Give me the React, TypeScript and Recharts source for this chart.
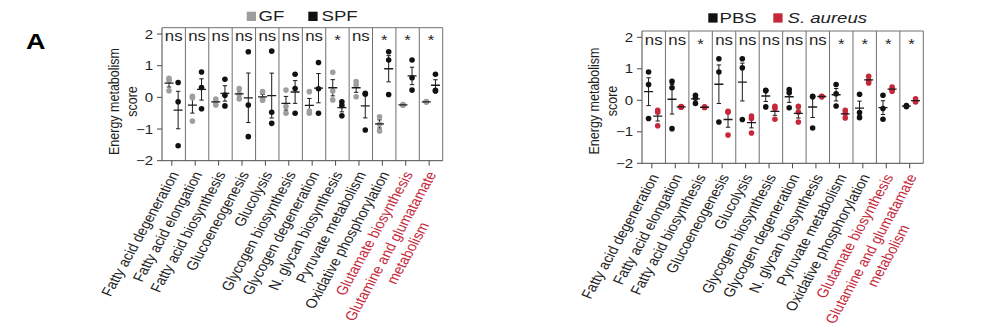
import React from 'react';
import { ComposedChart, Scatter, XAxis, YAxis, ErrorBar, ReferenceLine } from 'recharts';

// pathway names, "\n" splits a label over two lines
const CATEGORIES = [
  'Fatty acid degeneration',
  'Fatty acid elongation',
  'Fatty acid biosynthesis',
  'Glucoeneogenesis',
  'Glucolysis',
  'Glycogen biosynthesis',
  'Glycogen degeneration',
  'N. glycan biosynthesis',
  'Pyruvate metabolism',
  'Oxidative phosphorylation',
  'Glutamate biosynthesis',
  'Glutamine and glumatamate\nmetabolism',
];
const RED_CATEGORIES = ['Glutamate biosynthesis', 'Glutamine and glumatamate\nmetabolism'];

// three mice per group, one row per pathway
const GF = [
  [0.6, 0.53, 0.21],
  [0.03, -0.01, -0.75],
  [-0.05, -0.14, -0.24],
  [0.28, 0.1, -0.05],
  [0.18, -0.05, -0.09],
  [0.23, -0.29, -0.5],
  [0.18, -0.43, -0.5],
  [0.79, 0.2, -0.08],
  [0.5, 0.39, 0.02],
  [-0.61, -0.85, -1.06],
  [-0.23, -0.24, -0.25],
  [-0.13, -0.14, -0.15],
];
const SPF = [
  [0.47, -0.14, -1.53],
  [0.8, 0.31, -0.36],
  [0.57, 0.07, -0.27],
  [1.44, -0.24, -1.24],
  [1.46, -0.47, -0.82],
  [0.73, 0.28, -0.5],
  [1.1, 0.27, -0.5],
  [-0.14, -0.26, -0.58],
  [0.13, 0.1, -1.03],
  [1.44, 1.18, 0.09],
  [1.18, 0.62, 0.23],
  [0.73, 0.22, 0.2],
];
const PBS = [
  [0.9, 0.5, -0.58],
  [0.6, 0.4, -0.9],
  [0.16, 0.07, -0.1],
  [1.32, 0.9, -0.69],
  [1.32, 1.03, -0.61],
  [0.32, 0.3, -0.21],
  [0.34, 0.24, -0.24],
  [0.13, 0.11, -0.88],
  [0.5, 0.21, -0.18],
  [0.19, -0.39, -0.55],
  [0.16, -0.26, -0.6],
  [-0.17, -0.19, -0.2],
];
const S_AUREUS = [
  [-0.32, -0.38, -0.81],
  [-0.2, -0.21, -0.22],
  [-0.21, -0.22, -0.23],
  [-0.35, -0.38, -1.1],
  [-0.5, -0.58, -1.04],
  [-0.19, -0.26, -0.6],
  [-0.19, -0.37, -0.69],
  [0.11, 0.12, 0.13],
  [-0.32, -0.42, -0.56],
  [0.76, 0.63, 0.55],
  [0.42, 0.35, 0.29],
  [0.05, -0.05, -0.03],
];

const SIG_GF_SPF = ['ns', 'ns', 'ns', 'ns', 'ns', 'ns', 'ns', '*', 'ns', '*', '*', '*'];
const SIG_PBS_SA = ['ns', 'ns', '*', 'ns', 'ns', 'ns', 'ns', 'ns', '*', '*', '*', '*'];
const Y_TICKS = [-2, -1, 0, 1, 2];

const FONT = '"Liberation Sans", Arial, Helvetica, sans-serif';
const STRETCH = 1.2; // the source figure is squashed wider than tall
const RED = '#c6283a';
const GREY = '#9e9e9e';
const BLACK = '#111111';
const FRAME = '#707070';
const AXIS = '#4a4a4a';
const TEXT = '#1e1e1e';
const TICK_POS = 0.42;
const SIG_Y = 1.77;
const LABEL_SIZE = 13;

const mean = (a: number[]) => a.reduce((s, v) => s + v, 0) / a.length;
const sem = (a: number[]) => {
  const m = mean(a);
  const sd = Math.sqrt(a.reduce((s, v) => s + (v - m) ** 2, 0) / (a.length - 1));
  return sd / Math.sqrt(a.length);
};
const dotsOf = (groups: number[][], off: number) =>
  groups.flatMap((vals, i) => vals.map((v) => ({ x: i + off, y: v })));
const statsOf = (groups: number[][], off: number) =>
  groups.map((vals, i) => ({ x: i + off, y: mean(vals), err: sem(vals) }));

let ctx: CanvasRenderingContext2D | null = null;
const textWidth = (s: string, size: number) => {
  if (!ctx) ctx = document.createElement('canvas').getContext('2d');
  ctx!.font = `${size}px "Liberation Sans"`;
  return ctx!.measureText(s).width;
};

const YTick = ({ x, y, payload }: any) => (
  <g transform={`translate(${x},${y}) scale(${STRETCH},1)`}>
    <text textAnchor="end" dy="0.36em" fontSize={12.5} fontFamily={FONT} fill={TEXT}>
      {payload.value < 0 ? `\u2212${Math.abs(payload.value)}` : `${payload.value}`}
    </text>
  </g>
);

const CategoryTick = ({ x, y, payload }: any) => {
  const name = CATEGORIES[Math.floor(payload.value)];
  const [first, second] = name.split('\n');
  const fill = RED_CATEGORIES.includes(name) ? RED : TEXT;
  return (
    <g transform={`translate(${x + 7.5},${y + 6.5}) scale(${STRETCH},1) rotate(-65)`}>
      <text textAnchor="end" fontSize={LABEL_SIZE} fontFamily={FONT} fill={fill}>{first}</text>
      {second && (
        <text x={-textWidth(first, LABEL_SIZE) / 2} y={16} textAnchor="middle" fontSize={LABEL_SIZE} fontFamily={FONT} fill={fill}>
          {second}
        </text>
      )}
    </g>
  );
};

const dotShape = (fill: string) => ({ cx, cy }: any) => <circle cx={cx} cy={cy} r={2.8} fill={fill} />;
const MeanShape = ({ cx, cy }: any) => (
  <line x1={cx - 4.5} x2={cx + 4.5} y1={cy} y2={cy} stroke="#1a1a1a" strokeWidth={1.3} />
);
const SigShape = ({ cx, cy, payload }: any) => (
  <g transform={`translate(${cx},${cy}) scale(${STRETCH},1)`}>
    <text textAnchor="middle" dy={payload.label === '*' ? 4 : 0} fontSize={14} fontFamily={FONT} fill={TEXT}>
      {payload.label}
    </text>
  </g>
);

function Panel({ left, width, plotLeft, plotTop, plotWidth, plotHeight, groupA, groupB, colorA, colorB, offA, offB, sig }: any) {
  const height = 333;
  const sigData = sig.map((label: string, i: number) => ({ x: i + 0.5, y: SIG_Y, label }));
  return (
    <div style={{ position: 'absolute', left, top: 0 }}>
      <ComposedChart
        width={width}
        height={height}
        margin={{ top: plotTop, right: width - plotLeft - plotWidth, bottom: 0, left: plotLeft - 40 }}
      >
        <XAxis
          dataKey="x"
          type="number"
          domain={[0, 12]}
          ticks={CATEGORIES.map((_, i) => i + TICK_POS)}
          interval={0}
          tick={<CategoryTick />}
          tickSize={5}
          stroke={AXIS}
          height={height - plotTop - plotHeight}
          allowDataOverflow
        />
        <YAxis
          dataKey="y"
          type="number"
          domain={[-2, 2.2]}
          ticks={Y_TICKS}
          interval={0}
          tick={<YTick />}
          tickSize={5}
          tickMargin={4}
          width={40}
          stroke={AXIS}
          allowDataOverflow
        />
        {CATEGORIES.map((_, i) => (
          <ReferenceLine key={i} x={i + 1} stroke={FRAME} strokeWidth={1} />
        ))}
        <ReferenceLine y={2.2} stroke={FRAME} strokeWidth={1} />
        <Scatter data={dotsOf(groupA, offA)} shape={dotShape(colorA)} isAnimationActive={false} />
        <Scatter data={dotsOf(groupB, offB)} shape={dotShape(colorB)} isAnimationActive={false} />
        <Scatter data={statsOf(groupA, offA)} shape={<MeanShape />} isAnimationActive={false}>
          <ErrorBar dataKey="err" direction="y" width={2.2} stroke="#1a1a1a" strokeWidth={1} isAnimationActive={false} />
        </Scatter>
        <Scatter data={statsOf(groupB, offB)} shape={<MeanShape />} isAnimationActive={false}>
          <ErrorBar dataKey="err" direction="y" width={2.2} stroke="#1a1a1a" strokeWidth={1} isAnimationActive={false} />
        </Scatter>
        <Scatter data={sigData} shape={<SigShape />} isAnimationActive={false} />
      </ComposedChart>
    </div>
  );
}

const Stretched = ({ x, y, children, ...rest }: any) => (
  <g transform={`translate(${x},${y}) scale(${STRETCH},1)`}>
    <text fontFamily={FONT} fill={TEXT} {...rest}>{children}</text>
  </g>
);

const YTitle = ({ x, y }: any) => (
  <g transform={`translate(${x},${y}) scale(${STRETCH},1) rotate(-90)`}>
    <text textAnchor="middle" fontSize={12.5} fontFamily={FONT} fill={TEXT}>Energy metabolism</text>
    <text textAnchor="middle" y={15.3} fontSize={12.5} fontFamily={FONT} fill={TEXT}>score</text>
  </g>
);

export default function App() {
  return (
    <div style={{ position: 'absolute', left: 0, top: 0, width: 987, height: 333, background: '#fff' }}>
      <Panel
        left={0}
        width={480}
        plotLeft={162}
        plotTop={27.7}
        plotWidth={280.7}
        plotHeight={133}
        groupA={GF}
        groupB={SPF}
        colorA={GREY}
        colorB={BLACK}
        offA={0.3}
        offB={0.69}
        sig={SIG_GF_SPF}
      />
      <Panel
        left={480}
        width={507}
        plotLeft={162}
        plotTop={31}
        plotWidth={281.3}
        plotHeight={132.3}
        groupA={PBS}
        groupB={S_AUREUS}
        colorA={BLACK}
        colorB={RED}
        offA={0.28}
        offB={0.67}
        sig={SIG_PBS_SA}
      />
      <svg width={987} height={333} style={{ position: 'absolute', left: 0, top: 0, pointerEvents: 'none' }}>
        <Stretched x={26} y={48.5} fontSize={22.5} fontWeight="bold" fill="#000">A</Stretched>

        <rect x={246.7} y={11.7} width={9.3} height={9.3} fill={GREY} />
        <Stretched x={258.5} y={21} fontSize={15.5}>GF</Stretched>
        <rect x={308.3} y={11.7} width={9.3} height={9.3} fill={BLACK} />
        <Stretched x={321.5} y={21} fontSize={15.5}>SPF</Stretched>

        <rect x={708.3} y={13.3} width={9.3} height={9.3} fill={BLACK} />
        <Stretched x={719.5} y={22.7} fontSize={15.5}>PBS</Stretched>
        <rect x={773.3} y={13.3} width={9.3} height={9.3} fill={RED} />
        <Stretched x={787.5} y={22.7} fontSize={15.5} fontStyle="italic">S. aureus</Stretched>

        <YTitle x={118.7} y={101.5} />
        <YTitle x={598.7} y={101} />
      </svg>
    </div>
  );
}
